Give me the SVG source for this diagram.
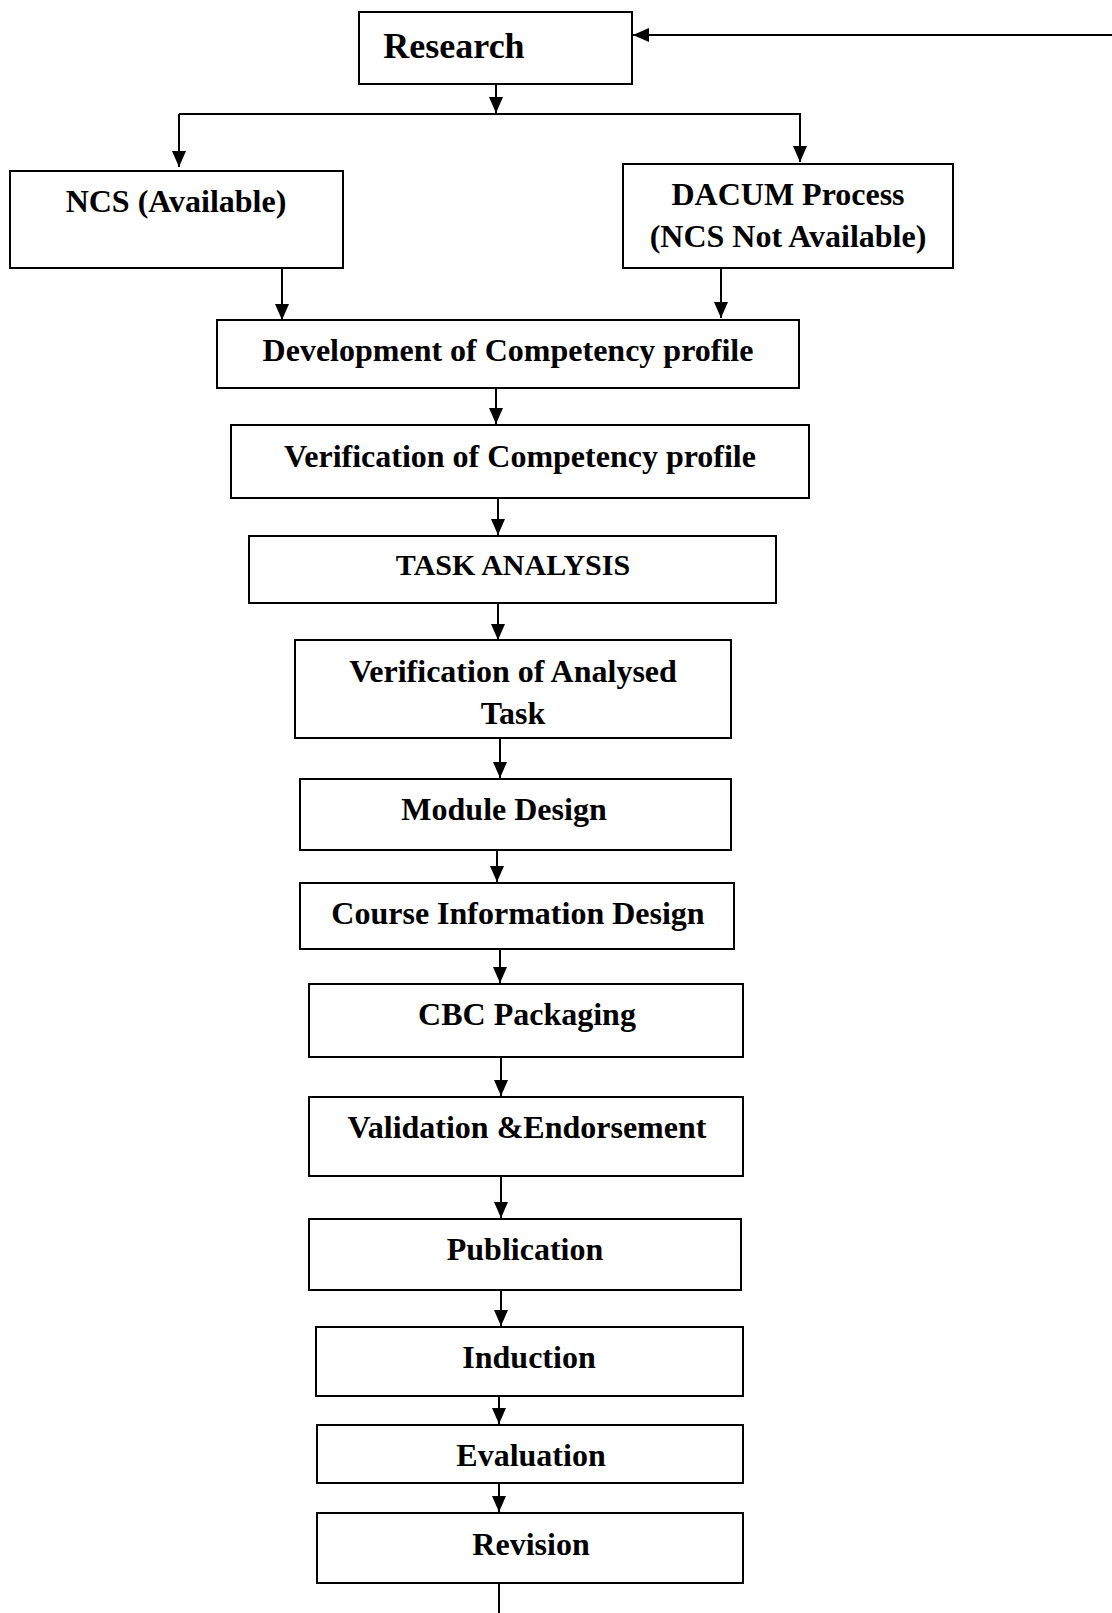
<svg xmlns="http://www.w3.org/2000/svg" width="1112" height="1613" viewBox="0 0 1112 1613">
<style>
.box{fill:#fff;stroke:#000;stroke-width:2}
.t{font-family:"Liberation Serif","Times New Roman",serif;font-weight:bold;font-size:32px;fill:#000;text-anchor:middle}
.c{fill:none;stroke:#000;stroke-width:2}
</style>
<defs>
<marker id="ah" markerUnits="userSpaceOnUse" markerWidth="18" markerHeight="16" viewBox="0 0 18 16" refX="16" refY="7" orient="auto">
<path d="M0,0 L16,7 L0,14 Z" fill="#000"/>
</marker>
</defs>
<rect width="1112" height="1613" fill="#fff"/>
<g id="connectors">
<path class="c" d="M1112,35 L633,35" marker-end="url(#ah)"/>
<path class="c" d="M496,85 L496,113" marker-end="url(#ah)"/>
<path class="c" d="M179,114 L800,114 L800,162" marker-end="url(#ah)"/>
<path class="c" d="M179,114 L179,167" marker-end="url(#ah)"/>
<path class="c" d="M282,268 L282,320" marker-end="url(#ah)"/>
<path class="c" d="M721,268 L721,318" marker-end="url(#ah)"/>
<path class="c" d="M496,388 L496,424" marker-end="url(#ah)"/>
<path class="c" d="M498,498 L498,535" marker-end="url(#ah)"/>
<path class="c" d="M498,603 L498,640" marker-end="url(#ah)"/>
<path class="c" d="M500,738 L500,778" marker-end="url(#ah)"/>
<path class="c" d="M497,850 L497,882" marker-end="url(#ah)"/>
<path class="c" d="M500,949 L500,983" marker-end="url(#ah)"/>
<path class="c" d="M501,1057 L501,1096" marker-end="url(#ah)"/>
<path class="c" d="M501,1176 L501,1218" marker-end="url(#ah)"/>
<path class="c" d="M501,1290 L501,1326" marker-end="url(#ah)"/>
<path class="c" d="M499,1396 L499,1424" marker-end="url(#ah)"/>
<path class="c" d="M499,1483 L499,1512" marker-end="url(#ah)"/>
<path class="c" d="M499,1583 L499,1613"/>
</g>
<g id="research"><rect class="box" x="359" y="12" width="273" height="72"/><text class="t" x="454" y="58" style="font-size:36px">Research</text></g>
<g id="ncs"><rect class="box" x="10" y="171" width="333" height="97"/><text class="t" x="176" y="212">NCS (Available)</text></g>
<g id="dacum"><rect class="box" x="623" y="164" width="330" height="104"/><text class="t" x="788" y="205">DACUM Process</text><text class="t" x="788" y="247">(NCS Not Available)</text></g>
<g id="dev"><rect class="box" x="217" y="320" width="582" height="68"/><text class="t" x="508" y="361">Development of Competency profile</text></g>
<g id="verif"><rect class="box" x="231" y="425" width="578" height="73"/><text class="t" x="520" y="467">Verification of Competency profile</text></g>
<g id="task"><rect class="box" x="249" y="536" width="527" height="67"/><text class="t" x="513" y="575" style="font-size:30px">TASK ANALYSIS</text></g>
<g id="verifTask"><rect class="box" x="295" y="640" width="436" height="98"/><text class="t" x="513" y="682">Verification of Analysed</text><text class="t" x="513" y="724">Task</text></g>
<g id="module"><rect class="box" x="300" y="779" width="431" height="71"/><text class="t" x="504" y="820">Module Design</text></g>
<g id="course"><rect class="box" x="300" y="883" width="434" height="66"/><text class="t" x="518" y="924">Course Information Design</text></g>
<g id="cbc"><rect class="box" x="309" y="984" width="434" height="73"/><text class="t" x="527" y="1025">CBC Packaging</text></g>
<g id="validation"><rect class="box" x="309" y="1097" width="434" height="79"/><text class="t" x="527" y="1138">Validation &amp;Endorsement</text></g>
<g id="publication"><rect class="box" x="309" y="1219" width="432" height="71"/><text class="t" x="525" y="1260">Publication</text></g>
<g id="induction"><rect class="box" x="316" y="1327" width="427" height="69"/><text class="t" x="529" y="1368">Induction</text></g>
<g id="evaluation"><rect class="box" x="317" y="1425" width="426" height="58"/><text class="t" x="531" y="1466">Evaluation</text></g>
<g id="revision"><rect class="box" x="317" y="1513" width="426" height="70"/><text class="t" x="531" y="1555">Revision</text></g>
</svg>
